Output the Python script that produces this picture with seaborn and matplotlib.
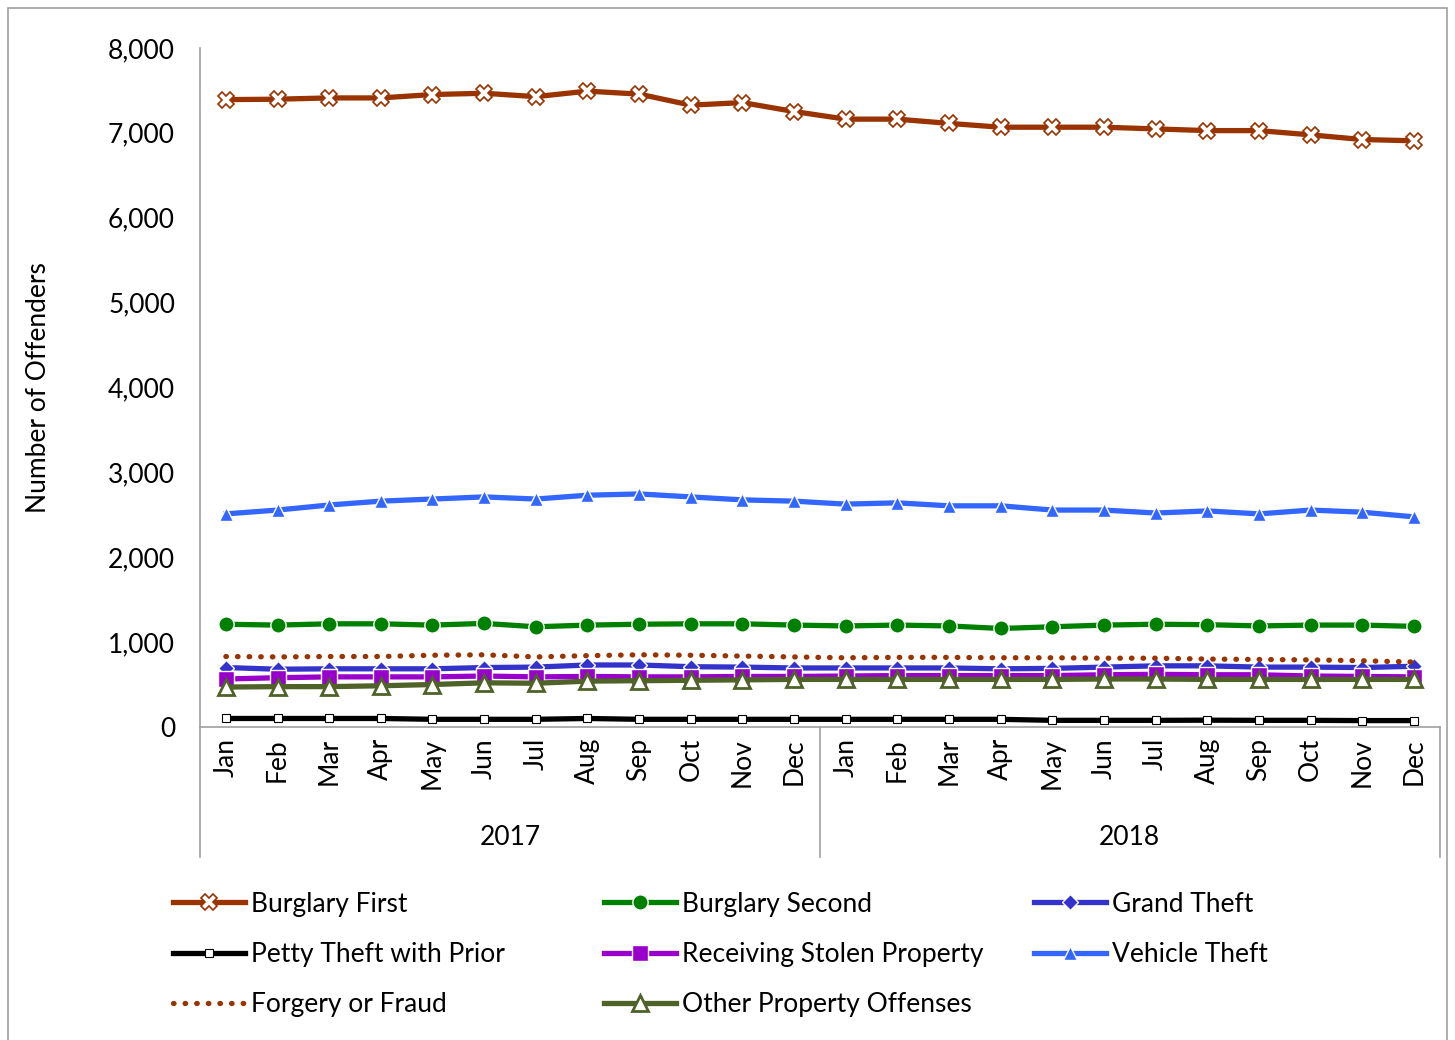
import numpy as np
import pandas as pd
import matplotlib
matplotlib.use("Agg")
import matplotlib.pyplot as plt
import matplotlib.transforms as mtransforms
from matplotlib.patches import Rectangle
import seaborn as sns

# Data
months = ['Jan', 'Feb', 'Mar', 'Apr', 'May', 'Jun', 'Jul', 'Aug', 'Sep', 'Oct', 'Nov', 'Dec']
years = ['2017', '2018']

burglary_first = [7390, 7395, 7410, 7410, 7450, 7465, 7425, 7490, 7455, 7325, 7355, 7250,
                  7160, 7160, 7110, 7065, 7065, 7065, 7045, 7025, 7025, 6975, 6920, 6905]
burglary_second = [1210, 1200, 1215, 1215, 1200, 1220, 1180, 1200, 1210, 1215, 1215, 1200,
                   1190, 1200, 1190, 1160, 1180, 1200, 1210, 1205, 1190, 1200, 1200, 1185]
grand_theft = [700, 680, 685, 685, 685, 700, 705, 730, 730, 710, 705, 695,
               695, 695, 695, 685, 690, 705, 720, 720, 705, 705, 700, 715]
petty_theft = [100, 100, 100, 100, 90, 90, 90, 100, 90, 90, 90, 90,
               90, 90, 90, 90, 78, 78, 78, 80, 78, 78, 75, 75]
receiving = [565, 580, 590, 590, 590, 600, 590, 595, 590, 590, 595, 595,
             600, 605, 605, 605, 605, 615, 620, 615, 615, 600, 595, 590]
vehicle_theft = [2510, 2555, 2615, 2660, 2685, 2710, 2685, 2730, 2745, 2710, 2675, 2660,
                 2625, 2640, 2605, 2605, 2555, 2555, 2520, 2545, 2510, 2555, 2530, 2475]
forgery = [830, 825, 830, 830, 845, 850, 825, 840, 850, 845, 835, 825,
           815, 820, 820, 815, 815, 810, 810, 800, 795, 790, 780, 765]
other_property = [470, 475, 475, 485, 500, 520, 515, 540, 545, 550, 555, 560,
                  560, 560, 560, 560, 560, 565, 565, 560, 560, 560, 560, 560]

labels = [m for y in years for m in months]
x = np.arange(len(labels))

plt.rcParams['font.family'] = ['Lato', 'DejaVu Sans']
FS = 19

fig = plt.figure(figsize=(14.55, 10.4), dpi=100)
ax = fig.add_axes([0.1375, 0.301, 0.852, 0.653])

# series styles
series = [
    ("Burglary First", burglary_first,
     dict(color='#993300', lw=3.8, marker='X', ms=11, mfc='white', mec='#993300', mew=1.2)),
    ("Burglary Second", burglary_second,
     dict(color='#008000', lw=3.8, marker='o', ms=11, mfc='#008000', mec='white', mew=1)),
    ("Grand Theft", grand_theft,
     dict(color='#3333CC', lw=3.8, marker='D', ms=8, mfc='#3333CC', mec='white', mew=1)),
    ("Petty Theft with Prior", petty_theft,
     dict(color='black', lw=3.8, marker='s', ms=6, mfc='white', mec='black', mew=0.8)),
    ("Receiving Stolen Property", receiving,
     dict(color='#9900CC', lw=3.8, marker='s', ms=11, mfc='#9900CC', mec='white', mew=1)),
    ("Vehicle Theft", vehicle_theft,
     dict(color='#3366FF', lw=3.8, marker='^', ms=10, mfc='#3366FF', mec='white', mew=1)),
    ("Forgery or Fraud", forgery,
     dict(color='#993300', lw=3.8, ls=(0, (0.1, 2.1)), dash_capstyle='round')),
    ("Other Property Offenses", other_property,
     dict(color='#4F6228', lw=3.8, marker='^', ms=12, mfc='white', mec='#4F6228', mew=2)),
]

handles = {}
for name, vals, style in series:
    sns.lineplot(x=x, y=vals, ax=ax, label=name, **style)
    handles[name] = ax.get_lines()[-1]
ax.get_legend().remove()

ax.set_xlim(-0.5, len(labels) - 0.5)
ax.set_ylim(0, 8000)
ax.set_yticks(np.arange(0, 8001, 1000))
ax.yaxis.set_major_formatter(matplotlib.ticker.FuncFormatter(lambda v, p: f"{int(v):,}"))
ax.set_xticks(x)
ax.set_xticklabels(labels, rotation=90, fontsize=FS)
ax.tick_params(axis='y', labelsize=FS, length=0, pad=18)
ax.tick_params(axis='x', length=0, pad=8)
ax.set_ylabel("Number of Offenders", fontsize=FS, labelpad=41)
ax.set_xlabel("")

for side in ['top', 'right']:
    ax.spines[side].set_visible(False)
for side in ['left', 'bottom']:
    ax.spines[side].set_color('#A0A0A0')
    ax.spines[side].set_linewidth(1.2)

# multi-level category axis: separators and year labels
trans = mtransforms.blended_transform_factory(ax.transData, ax.transAxes)
for xb in [-0.5, 11.5, 23.5]:
    ax.plot([xb, xb], [0, -0.191], transform=trans, color='#A0A0A0', lw=1.2, clip_on=False)
for i, yr in enumerate(years):
    ax.text(i * 12 + 5.5, -0.163, yr, transform=trans, ha='center', va='center', fontsize=FS)

# legend: three columns, one legend each
columns = [
    (0.1024, ["Burglary First", "Petty Theft with Prior", "Forgery or Fraud"]),
    (0.3986, ["Burglary Second", "Receiving Stolen Property", "Other Property Offenses"]),
    (0.6942, ["Grand Theft", "Vehicle Theft"]),
]
for xpos, names in columns:
    fig.legend([handles[n] for n in names], names, loc='upper left',
               bbox_to_anchor=(xpos, 0.1654), frameon=False, fontsize=FS,
               handlelength=2.75, handletextpad=0.2, labelspacing=0.96)

# outer chart border
fig.patches.append(Rectangle((0.0055, -0.01), 0.989, 1.002, transform=fig.transFigure,
                             fill=False, edgecolor='#A0A0A0', lw=1.2))

fig.savefig("out.png", dpi=100)
